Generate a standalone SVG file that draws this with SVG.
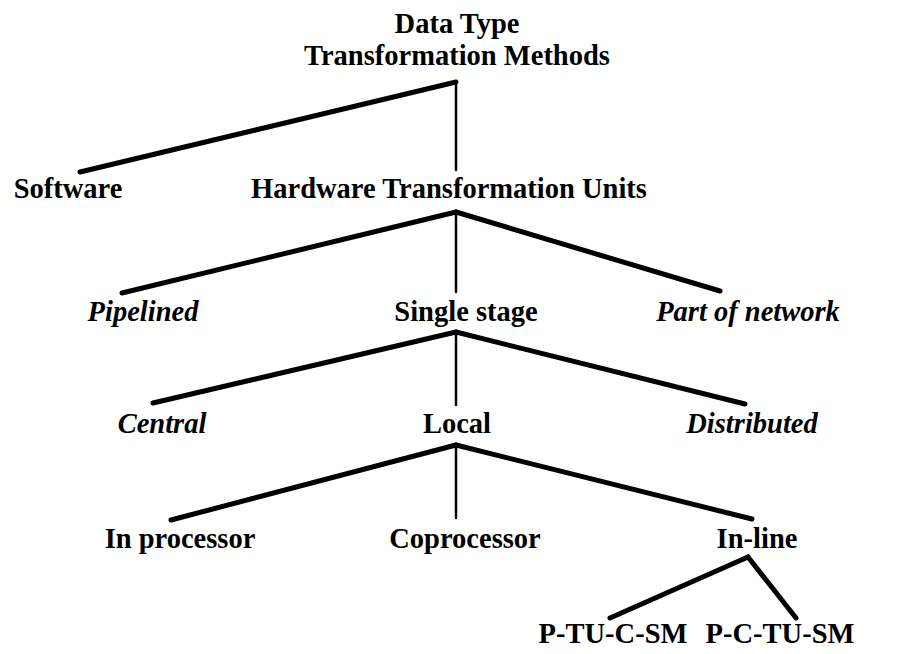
<svg xmlns="http://www.w3.org/2000/svg" width="909" height="654" viewBox="0 0 909 654">
  <style>
    .lbl { font-family: "Liberation Serif", "Times New Roman", serif; font-size: 28.5px; font-weight: bold; fill: #000; text-anchor: middle; }
    .it { font-style: italic; }
    .edge { stroke: #000; stroke-linecap: round; fill: none; stroke-width: 5; }
    .stem { stroke: #000; stroke-linecap: round; fill: none; stroke-width: 2.5; }
  </style>
  <rect width="909" height="654" fill="#fff"/>

  <!-- tree connectors -->
  <g id="connectors">
    <line class="edge" x1="456" y1="82" x2="80" y2="172"/>
    <line class="stem" x1="456" y1="82" x2="456" y2="170"/>

    <line class="edge" x1="456" y1="212" x2="122" y2="293"/>
    <line class="stem" x1="456" y1="212" x2="456" y2="292"/>
    <line class="edge" x1="456" y1="212" x2="720" y2="291"/>

    <line class="edge" x1="456" y1="332" x2="153" y2="403"/>
    <line class="stem" x1="456" y1="332" x2="456" y2="405"/>
    <line class="edge" x1="456" y1="332" x2="745" y2="404"/>

    <line class="edge" x1="456" y1="445" x2="171" y2="520"/>
    <line class="stem" x1="456" y1="445" x2="456" y2="518"/>
    <line class="edge" x1="456" y1="445" x2="752" y2="519"/>

    <line class="edge" x1="748" y1="557" x2="610" y2="618"/>
    <line class="edge" x1="748" y1="557" x2="796" y2="618"/>
  </g>

  <g id="root">
    <text class="lbl" x="457" y="33">Data Type</text>
    <text class="lbl" x="457" y="65">Transformation Methods</text>
  </g>

  <g id="software"><text class="lbl" x="68" y="198">Software</text></g>
  <g id="hardware"><text class="lbl" x="449" y="198">Hardware Transformation Units</text></g>

  <g id="pipelined"><text class="lbl it" x="143" y="321">Pipelined</text></g>
  <g id="single-stage"><text class="lbl" x="466" y="321">Single stage</text></g>
  <g id="part-of-network"><text class="lbl it" x="748" y="321">Part of network</text></g>

  <g id="central"><text class="lbl it" x="162" y="433">Central</text></g>
  <g id="local"><text class="lbl" x="457" y="433">Local</text></g>
  <g id="distributed"><text class="lbl it" x="752" y="433">Distributed</text></g>

  <g id="in-processor"><text class="lbl" x="180" y="548">In processor</text></g>
  <g id="coprocessor"><text class="lbl" x="465" y="548">Coprocessor</text></g>
  <g id="in-line"><text class="lbl" x="757" y="548">In-line</text></g>

  <g id="p-tu-c-sm"><text class="lbl" x="613" y="643">P-TU-C-SM</text></g>
  <g id="p-c-tu-sm"><text class="lbl" x="780" y="643">P-C-TU-SM</text></g>
</svg>
